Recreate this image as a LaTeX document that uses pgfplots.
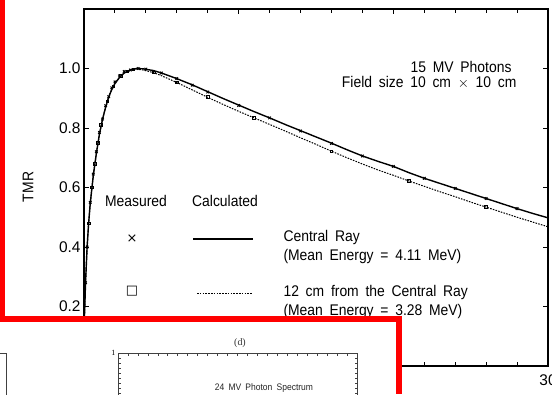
\documentclass[border=0pt]{standalone}
\usepackage{fontspec}
\setmainfont[FakeStretch=0.9,WordSpace=1.75]{Liberation Sans}
\newfontfamily\tickfont{Liberation Sans}
\newfontfamily\symfont{DejaVu Sans}
\newfontfamily\seriffont{Liberation Serif}
\usepackage{pgfplots}
\pgfplotsset{compat=1.18}

\newcommand{\txt}{\fontsize{15.5}{18.5}\selectfont}

\begin{document}
\begin{tikzpicture}[x=1bp,y=1bp]
\useasboundingbox (0,0) rectangle (552,394);
\begin{scope}
\clip (0,0) rectangle (552,394);

% ---- TMR versus depth, 15 MV photons ----
\begin{axis}[
  at={(84bp,28bp)}, anchor=south west,
  scale only axis, width=464bp, height=357bp,
  xmin=0, xmax=30, ymin=0, ymax=1.2,
  xtick={0,10,20,30}, xticklabels={0,10,20,30},
  minor xtick={2,4,6,8,12,14,16,18,22,24,26,28},
  ytick={0.2,0.4,0.6,0.8,1.0}, yticklabels={0.2,0.4,0.6,0.8,1.0},
  tick align=inside, major tick length=5bp, minor tick length=4bp,
  axis line style={line width=1.1bp, black},
  tick style={line width=0.9bp, black},
  tick label style={font=\tickfont\fontsize{15.5}{18}\selectfont},
  xticklabel style={yshift=-5bp},
  clip=true,
]
% calculated, central ray
\addplot[black, line width=1.4bp] coordinates {
 (0,0.12) (0.1,0.28) (0.2,0.40) (0.3,0.48) (0.4,0.545) (0.6,0.64) (0.8,0.715)
 (1.0,0.78) (1.2,0.83) (1.4,0.87) (1.6,0.905) (1.8,0.93) (2.0,0.95) (2.3,0.97)
 (2.6,0.985) (3.0,0.995) (3.4,1.0) (3.8,0.999) (4.5,0.993) (5,0.985) (6,0.966)
 (7,0.945) (8,0.922) (9,0.899) (10,0.877) (11,0.855) (12,0.834) (13,0.812)
 (14,0.791) (15,0.77) (16,0.749) (17,0.727) (18,0.706) (19,0.688) (20,0.671)
 (21,0.65) (22,0.631) (23,0.614) (24,0.597) (25,0.58) (26,0.563) (27,0.546)
 (28,0.529) (29,0.513) (30,0.498)};
% calculated, 12 cm from the central ray
\addplot[black, line width=1bp, dash pattern=on 1.6bp off 1.2bp] coordinates {
 (0,0.12) (0.1,0.28) (0.2,0.40) (0.3,0.48) (0.4,0.545) (0.6,0.64) (0.8,0.715)
 (1.0,0.78) (1.2,0.83) (1.4,0.87) (1.6,0.905) (1.8,0.93) (2.0,0.95) (2.3,0.97)
 (2.6,0.985) (3.0,0.995) (3.4,0.998) (3.8,0.995) (4.5,0.986) (5,0.976) (6,0.953)
 (7,0.928) (8,0.903) (9,0.879) (10,0.856) (11,0.834) (12,0.812) (13,0.79)
 (14,0.767) (15,0.745) (16,0.722) (17,0.7) (18,0.679) (19,0.659) (20,0.641)
 (21,0.622) (22,0.604) (23,0.586) (24,0.569) (25,0.551) (26,0.534) (27,0.517)
 (28,0.5) (29,0.484) (30,0.468)};
% measured, central ray
\addplot[only marks, mark=x, mark size=1.8bp, line width=1bp, black] coordinates {
 (0.1,0.28) (0.2,0.40) (0.4,0.55) (0.6,0.645) (0.8,0.72) (1.0,0.785) (1.2,0.83)
 (1.4,0.875) (1.6,0.905) (1.8,0.935) (2.0,0.955) (2.3,0.975) (2.6,0.99)
 (3.0,0.995) (3.5,1.0) (4.0,0.998) (5,0.985) (6,0.966) (7,0.944) (8,0.921)
 (10,0.876) (12,0.834) (14,0.79) (16,0.748) (18,0.706) (20,0.671) (22,0.631)
 (24,0.597) (26,0.563) (28,0.529)};
% measured, 12 cm from the central ray
\addplot[only marks, mark=square, mark size=1.3bp, line width=0.8bp, black] coordinates {
 (0.3,0.48) (0.5,0.6) (0.7,0.68) (0.9,0.75) (1.1,0.81) (1.5,0.89) (1.9,0.94)
 (2.4,0.975) (2.8,0.99) (3.2,0.997) (4.5,0.987) (6,0.953) (8,0.904) (11,0.834)
 (16,0.722) (21,0.622) (26,0.534)};
\end{axis}

% axis title and annotations
\node[rotate=90, font=\txt] at (28,207) {TMR};
\node[anchor=east, font=\txt] at (515,327) {15 MV Photons};
\node[anchor=east, font=\txt] at (520,311) {Field size 10 cm $\times$ 10 cm};

% key
\node[font=\txt] at (136,193) {Measured};
\node[font=\txt] at (225,193) {Calculated};
\node[font=\symfont\fontsize{13}{15}\selectfont] at (132,155) {×};
\node[font=\symfont\fontsize{13}{15}\selectfont] at (132,103) {□};
\draw[black, line width=1.4bp] (193,155) -- (253,155);
\draw[black, line width=1bp, dash pattern=on 1.6bp off 1.2bp] (197,101) -- (253,101);
\node[anchor=west, font=\txt] at (280,156) {Central Ray};
\node[anchor=west, font=\txt] at (280,137) {(Mean Energy = 4.11 MeV)};
\node[anchor=west, font=\txt] at (280,101) {12 cm from the Central Ray};
\node[anchor=west, font=\txt] at (280,82) {(Mean Energy = 3.28 MeV)};

% ---- inset panel below ----
\fill[white] (0,0) rectangle (399,75);

\begin{axis}[
  at={(6bp,41bp)}, anchor=north east,
  scale only axis, width=160bp, height=100bp,
  xmin=0, xmax=16, ymin=0, ymax=1,
  xtick=\empty, ytick=\empty,
  minor ytick={0.05,0.1,...,0.95},
  tick align=inside, minor tick length=2.5bp,
  axis line style={line width=0.7bp, black!75},
  tick style={line width=0.6bp, black!75},
]
\addplot[draw=none] coordinates {(0,0)};
\end{axis}

\begin{axis}[
  at={(118bp,41bp)}, anchor=north west,
  scale only axis, width=239bp, height=100bp,
  xmin=0, xmax=24, ymin=0, ymax=1,
  xtick={0,5,10,15,20}, xticklabels={},
  minor xtick={1,2,...,23},
  ytick={1}, yticklabels={1},
  minor ytick={0.05,0.1,...,0.95},
  tick align=inside, major tick length=3bp, minor tick length=2.5bp,
  axis line style={line width=0.7bp, black!75},
  tick style={line width=0.6bp, black!75},
  yticklabel style={font=\seriffont\fontsize{8}{9}\selectfont, xshift=1bp},
]
\addplot[draw=none] coordinates {(0,0)};
\end{axis}
\node[font=\seriffont\fontsize{10}{11}\selectfont, black!80] at (240,51) {(d)};
\node[font=\fontsize{9.5}{11}\selectfont, black!85] at (264,6) {24 MV Photon Spectrum};

% red frame
\fill[red] (0,74) rectangle (5,394);
\fill[red] (0,72) rectangle (402,78);
\fill[red] (396,0) rectangle (402,78);
\end{scope}
\end{tikzpicture}
\end{document}
